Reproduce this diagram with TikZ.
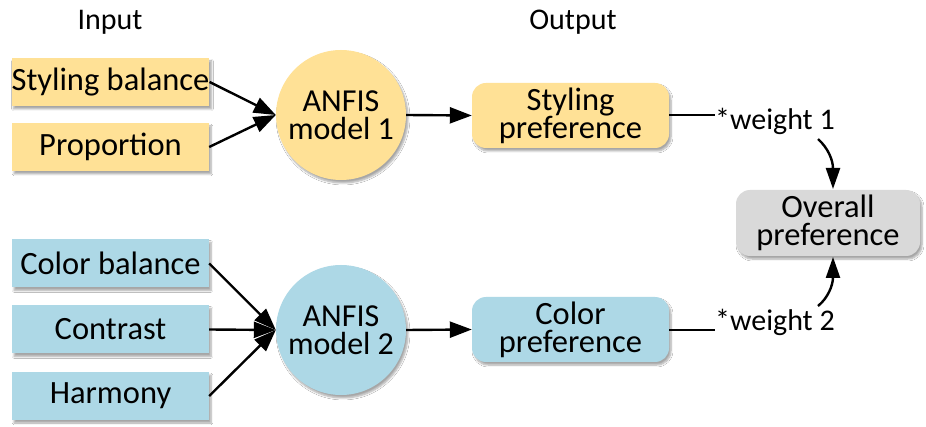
\documentclass[tikz,border=0pt]{standalone}
\usepackage{fontspec}
\setmainfont{Carlito}
\usetikzlibrary{arrows.meta,shadows.blur}
\definecolor{ylw}{HTML}{FFE196}
\definecolor{blu}{HTML}{ADD8E6}
\definecolor{gry}{HTML}{D9D9D9}
\begin{document}
\begin{tikzpicture}[x=1pt,y=-1pt,
  every node/.style={font=\fontsize{30}{28}\selectfont, align=center, inner sep=0pt},
  shad/.style={blur shadow={shadow xshift=2pt, shadow yshift=-3pt, shadow blur steps=6, shadow opacity=35}},
  inbox/.style={rectangle, minimum width=197pt, minimum height=48pt, shad, font=\fontsize{32.5}{28}\selectfont},
  model/.style={circle, minimum size=130pt, shad, font=\fontsize{32}{28}\selectfont},
  outbox/.style={rectangle, rounded corners=14pt, minimum width=197pt, minimum height=65pt, shad, font=\fontsize{32.5}{28}\selectfont},
  arr/.style={line width=2.4pt, -{Triangle[length=22pt,width=16pt]}},
  carr/.style={line width=2.4pt, -{Triangle[length=21pt,width=14pt]}},
  lin/.style={line width=2.4pt}
]
\useasboundingbox[fill=white] (0,0) rectangle (926,427);

\node (inlab) at (110,22) {Input};
\node (outlab) at (573,22) {Output};

\node[inbox, fill=ylw] (in1) at (110.5,82) {Styling balance};
\node[inbox, fill=ylw] (in2) at (110.5,147) {Proportion};
\node[inbox, fill=blu] (in3) at (110.5,263.5) {Color balance};
\node[inbox, fill=blu] (in4) at (110.5,329.5) {Contrast};
\node[inbox, fill=blu] (in5) at (110.5,396) {Harmony};

\node[model, fill=ylw] (m1) at (341,115) {ANFIS\\model 1};
\node[model, fill=blu] (m2) at (341,330) {ANFIS\\model 2};

\node[outbox, fill=ylw] (o1) at (570.5,115.5) {Styling\\preference};
\node[outbox, fill=blu] (o2) at (570.5,329.5) {Color\\preference};
\node[outbox, fill=gry, minimum width=184pt, minimum height=66pt] (ov) at (828,223) {Overall\\preference};

\node[anchor=west] (w1) at (715,121) {*weight 1};
\node[anchor=west] (w2) at (715,322) {*weight 2};

\draw[arr] (in1.east) -- (m1.west);
\draw[arr] (in2.east) -- (m1.west);
\draw[arr] (in3.east) -- (m2.west);
\draw[arr] (in4.east) -- (m2.west);
\draw[arr] (in5.east) -- (m2.west);
\draw[arr] (m1.east) -- (o1.west);
\draw[arr] (m2.east) -- (o2.west);

\coordinate (w1e) at (715,115);
\coordinate (w2e) at (715,330);
\draw[lin] (o1.east |- w1e) -- (w1e);
\draw[lin] (o2.east |- w2e) -- (w2e);

\coordinate (c1s) at (818,139);
\coordinate (c2s) at (818,306);
\coordinate (ovt) at (833,189);
\coordinate (ovb) at (833,257);
\draw[carr] (c1s) .. controls (828,148) and (833,160) .. (ovt);
\draw[carr] (c2s) .. controls (828,298) and (833,285) .. (ovb);
\end{tikzpicture}
\end{document}
